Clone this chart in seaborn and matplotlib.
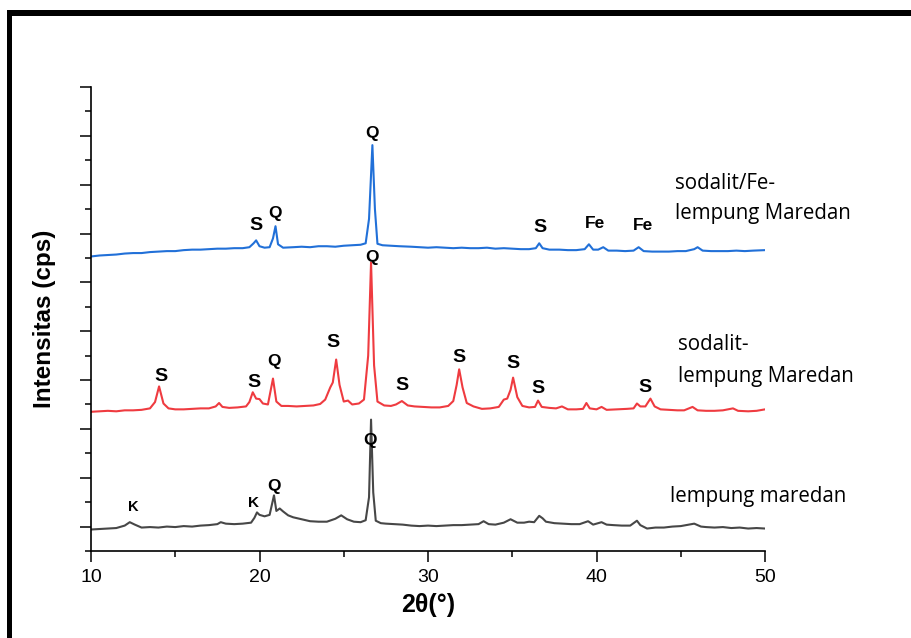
import matplotlib
matplotlib.use("Agg")
import matplotlib.pyplot as plt
from matplotlib.ticker import MultipleLocator
from matplotlib.patches import Rectangle
import seaborn as sns
import pandas as pd

# ---- data (2theta, intensity) ----
black_x = [10.0, 10.5, 11.0, 11.5, 12.0, 12.3, 12.6, 13.0, 13.5, 14.0, 14.5, 15.0, 15.5, 16.0, 16.5,
           17.0, 17.5, 17.7, 18.0, 18.5, 19.0, 19.5, 19.7, 19.85, 20.0, 20.3, 20.6, 20.86, 21.0, 21.2,
           21.4, 21.7, 22.0, 22.5, 23.0, 23.5, 24.0, 24.5, 24.85, 25.2, 25.6, 26.0, 26.3, 26.5, 26.62,
           26.75, 26.9, 27.2, 27.5, 28.0, 28.5, 29.0, 29.5, 30.0, 30.5, 31.0, 31.5, 32.0, 32.5, 33.0,
           33.3, 33.6, 34.0, 34.5, 34.9, 35.3, 35.7, 36.0, 36.3, 36.6, 36.8, 37.0, 37.5, 38.0, 38.5,
           39.0, 39.5, 39.8, 40.3, 40.6, 41.0, 41.5, 42.0, 42.4, 42.6, 43.0, 43.5, 44.0, 44.5, 45.0,
           45.8, 46.2, 46.5, 47.0, 47.5, 48.0, 48.5, 49.0, 49.5, 50.0]
black_y = [-60, -50, -40, -30, 20, 90, 40, -20, -10, -20, 0, -10, 10, 0, 20,
           30, 50, 90, 60, 50, 60, 80, 180, 290, 240, 210, 240, 640, 320, 370,
           310, 230, 190, 150, 110, 100, 100, 160, 230, 150, 100, 90, 130, 600, 2190,
           700, 120, 70, 60, 50, 40, 20, 10, 20, 10, 20, 30, 30, 40, 50,
           110, 50, 40, 80, 150, 80, 80, 100, 90, 220, 170, 100, 70, 60, 50,
           50, 110, 40, 90, 40, 30, 20, 20, 120, 30, -40, -20, -20, 0, 10,
           60, 0, -10, -20, -10, -30, -20, -40, -30, -40]

red_x = [10.0, 10.5, 11.0, 11.5, 12.0, 12.5, 13.0, 13.5, 13.8, 14.04, 14.3, 14.6, 15.0, 15.5, 16.0,
         16.5, 17.0, 17.4, 17.6, 17.8, 18.2, 18.7, 19.2, 19.4, 19.6, 19.8, 20.0, 20.2, 20.5, 20.8,
         21.0, 21.3, 21.7, 22.2, 22.7, 23.2, 23.6, 23.9, 24.2, 24.35, 24.55, 24.75, 25.0, 25.25, 25.5,
         25.9, 26.2, 26.45, 26.62, 26.8, 27.0, 27.4, 27.8, 28.1, 28.45, 28.8, 29.2, 29.7, 30.2, 30.7,
         31.2, 31.5, 31.7, 31.85, 32.05, 32.3, 32.7, 33.2, 33.7, 34.2, 34.5, 34.7, 34.9, 35.05, 35.3,
         35.6, 36.0, 36.35, 36.53, 36.75, 37.2, 37.6, 37.95, 38.3, 38.8, 39.2, 39.4, 39.6, 40.0, 40.3,
         40.6, 41.2, 41.8, 42.2, 42.4, 42.6, 42.9, 43.2, 43.45, 43.8, 44.3, 44.8, 45.2, 45.7, 46.0,
         46.5, 47.0, 47.5, 48.1, 48.4, 49.0, 49.5, 50.0]
red_y = [2350, 2360, 2370, 2360, 2380, 2380, 2390, 2420, 2550, 2870, 2520, 2420, 2400, 2400, 2410,
         2420, 2420, 2460, 2530, 2450, 2430, 2440, 2460, 2550, 2750, 2620, 2610, 2520, 2500, 3030,
         2560, 2470, 2470, 2460, 2470, 2480, 2510, 2600, 2850, 2950, 3420, 2900, 2560, 2580, 2500,
         2520, 2600, 3500, 5410, 3300, 2560, 2480, 2470, 2500, 2570, 2480, 2460, 2450, 2440, 2440,
         2470, 2570, 2900, 3220, 2850, 2530, 2460, 2410, 2420, 2450, 2600, 2620, 2800, 3050, 2650,
         2470, 2440, 2450, 2580, 2450, 2430, 2420, 2460, 2400, 2400, 2410, 2530, 2420, 2400, 2450,
         2390, 2400, 2410, 2420, 2520, 2460, 2460, 2620, 2460, 2400, 2390, 2380, 2380, 2450, 2380,
         2370, 2370, 2380, 2420, 2370, 2360, 2370, 2400]

blue_x = [10.0, 10.5, 11.0, 11.5, 12.0, 12.5, 13.0, 13.5, 14.0, 14.5, 15.0, 15.5, 16.0, 16.5, 17.0,
          17.5, 18.0, 18.5, 19.0, 19.4, 19.65, 19.8, 20.0, 20.3, 20.6, 20.8, 20.95, 21.1, 21.4, 22.0,
          22.5, 23.0, 23.5, 24.0, 24.5, 25.0, 25.5, 26.0, 26.3, 26.5, 26.7, 26.85, 27.0, 27.3, 27.8,
          28.3, 29.0, 29.5, 30.0, 30.5, 31.0, 31.5, 32.0, 32.5, 33.0, 33.5, 34.0, 34.5, 35.0, 35.5,
          36.0, 36.4, 36.6, 36.8, 37.2, 37.8, 38.3, 38.8, 39.3, 39.55, 39.8, 40.1, 40.4, 40.7, 41.2,
          41.7, 42.2, 42.5, 42.8, 43.3, 43.8, 44.3, 44.8, 45.3, 45.8, 46.0, 46.3, 46.8, 47.3, 47.8,
          48.3, 48.8, 49.3, 50.0]
blue_y = [5530, 5550, 5560, 5570, 5590, 5600, 5600, 5620, 5630, 5640, 5640, 5660, 5670, 5670, 5680,
          5690, 5690, 5700, 5700, 5720, 5800, 5860, 5740, 5710, 5720, 5900, 6150, 5780, 5710, 5720,
          5730, 5720, 5740, 5740, 5730, 5750, 5760, 5770, 5800, 6300, 7810, 6500, 5790, 5760, 5750,
          5740, 5730, 5720, 5710, 5720, 5710, 5700, 5710, 5700, 5700, 5710, 5690, 5700, 5690, 5680,
          5680, 5700, 5800, 5700, 5670, 5670, 5660, 5660, 5680, 5780, 5670, 5670, 5720, 5650, 5650,
          5640, 5650, 5720, 5640, 5630, 5630, 5630, 5640, 5640, 5680, 5720, 5650, 5640, 5640, 5640,
          5650, 5640, 5650, 5660]

# peak annotations: (text, 2theta, intensity, fontsize)
black_peaks = [("K", 12.49, 410, 10.5), ("K", 19.67, 492, 11), ("Q", 20.86, 820, 12.5), ("Q", 26.56, 1763, 12.5)]
red_peaks = [("S", 14.15, 3075, 14), ("S", 19.67, 2952, 14), ("Q", 20.86, 3383, 12.5), ("S", 24.36, 3772, 14),
             ("Q", 26.68, 5515, 12.5), ("S", 28.46, 2891, 14), ("S", 31.84, 3465, 14), ("S", 35.04, 3342, 14),
             ("S", 36.53, 2829, 14), ("S", 42.88, 2850, 14)]
blue_peaks = [("S", 19.79, 6171, 14), ("Q", 20.92, 6417, 12.5), ("Q", 26.68, 8057, 12.5), ("S", 36.65, 6130, 14),
              ("Fe", 39.91, 6212, 12.5), ("Fe", 42.76, 6171, 12.5)]

series_labels = [("sodalit/Fe-", 44.66, 7031), ("lempung Maredan", 44.66, 6417),
                 ("sodalit-", 44.84, 3731), ("lempung Maredan", 44.84, 3075),
                 ("lempung maredan", 44.36, 615)]

x_ticks = [10, 20, 30, 40, 50]

colors = {"black": "#474747", "red": "#ef3b40", "blue": "#2170d8"}

sns.set_theme(style="ticks")
plt.rcParams["font.family"] = ["Liberation Sans", "DejaVu Sans"]
plt.rcParams["text.color"] = "black"
plt.rcParams["axes.labelcolor"] = "black"
plt.rcParams["xtick.color"] = "black"
plt.rcParams["ytick.color"] = "black"

fig = plt.figure(figsize=(9.12, 6.38), dpi=100)
ax = fig.add_axes([91 / 912, 1 - 551 / 638, 674 / 912, 464 / 638])

for xs, ys, c in [(black_x, black_y, colors["black"]), (red_x, red_y, colors["red"]),
                  (blue_x, blue_y, colors["blue"])]:
    df = pd.DataFrame({"x": xs, "y": ys})
    sns.lineplot(data=df, x="x", y="y", color=c, lw=1.5, ax=ax, sort=False, estimator=None)

for peaks in (black_peaks, red_peaks, blue_peaks):
    for t, px, py, fs in peaks:
        ax.text(px, py, t, ha="center", va="center", fontsize=fs, fontweight="bold", color="black",
                family=["Liberation Sans", "DejaVu Sans"])

for t, px, py in series_labels:
    ax.text(px, py, t, ha="left", va="center", fontsize=14.8, color="black",
            family=["Open Sans", "DejaVu Sans"], clip_on=False)

ax.set_xlim(10, 50)
ax.set_ylim(-500, 9000)
ax.set_xticks(x_ticks)
ax.set_xticklabels([str(v) for v in x_ticks], fontsize=14,
                   family=["Liberation Sans Narrow", "Liberation Sans", "DejaVu Sans"])
ax.xaxis.set_minor_locator(MultipleLocator(5))
ax.yaxis.set_major_locator(MultipleLocator(1000))
ax.yaxis.set_minor_locator(MultipleLocator(500))
ax.set_yticklabels([])
ax.tick_params(axis="both", which="major", length=8, width=1.1, color="black", direction="out")
ax.tick_params(axis="both", which="minor", length=4, width=1.1, color="black", direction="out")
ax.tick_params(axis="x", pad=5)
for s in ("top", "right"):
    ax.spines[s].set_visible(False)
for s in ("left", "bottom"):
    ax.spines[s].set_linewidth(1.2)
    ax.spines[s].set_color("black")

ax.set_xlabel("2θ(°)", fontsize=18, fontweight="bold", color="black",
              family=["Liberation Sans Narrow", "Liberation Sans", "DejaVu Sans"])
ax.xaxis.set_label_coords(0.5, -(605 - 551) / 464)
ax.set_ylabel("Intensitas (cps)", fontsize=17.5, fontweight="bold", color="black",
              family=["Liberation Sans", "DejaVu Sans"])
ax.yaxis.set_label_coords(-(91 - 45) / 674, 0.5)
ax.yaxis.label.set_verticalalignment("center")
ax.xaxis.label.set_verticalalignment("center")

# thick frame on top and left (cropped picture border)
fig.add_artist(Rectangle((7 / 912, 0), 5.5 / 912, 1 - 10 / 638, transform=fig.transFigure,
                         color="black", lw=0))
fig.add_artist(Rectangle((7 / 912, 1 - 15.5 / 638), 1, 5.5 / 638, transform=fig.transFigure,
                         color="black", lw=0))

fig.savefig("out.png", dpi=100)
